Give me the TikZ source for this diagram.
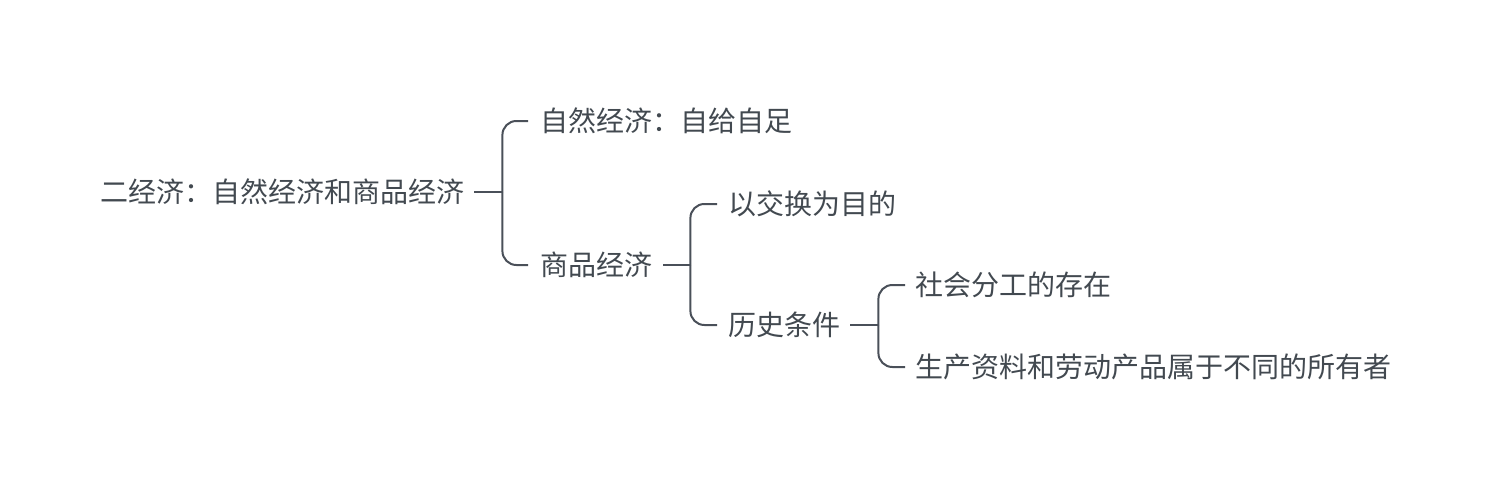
\documentclass[tikz,border=0pt]{standalone}
\usepackage{fontspec}
\setmainfont{Noto Sans CJK SC}
\usepackage{tikz}
\usetikzlibrary{positioning, calc}
\definecolor{map-ink}{HTML}{424950}
\definecolor{map-line}{HTML}{4A5059}

\begin{document}
\begin{tikzpicture}[
    x=1pt, y=-1pt,
    topic/.style={anchor=west, inner sep=0pt, text=map-ink, font=\fontsize{28}{32}\selectfont},
    stub/.style={draw=map-line, line width=2pt},
    branch/.style={draw=map-line, line width=2pt, rounded corners=14pt}
]
\useasboundingbox (0,0) rectangle (1491,487);

% Root
\node[topic] (root) at (100,192) {二经济：自然经济和商品经济};

% First level
\node[topic] (nat) at (540,121) {自然经济：自给自足};
\node[topic] (com) at (540,265) {商品经济};

% Second level
\node[topic] (aim) at (728,204) {以交换为目的};
\node[topic] (hist) at (728,325) {历史条件};

% Third level
\node[topic] (div) at (915,285) {社会分工的存在};
\node[topic] (own) at (915,367) {生产资料和劳动产品属于不同的所有者};

% Brackets
\draw[stub] ([xshift=10pt]root.east) -- ++(28,0) coordinate (j1);
\draw[branch] (j1) |- ([xshift=-12pt]nat.west);
\draw[branch] (j1) |- ([xshift=-12pt]com.west);

\draw[stub] ([xshift=11pt]com.east) -- ++(27,0) coordinate (j2);
\draw[branch] (j2) |- ([xshift=-11pt]aim.west);
\draw[branch] (j2) |- ([xshift=-11pt]hist.west);

\draw[stub] ([xshift=10pt]hist.east) -- ++(28,0) coordinate (j3);
\draw[branch] (j3) |- ([xshift=-10pt]div.west);
\draw[branch] (j3) |- ([xshift=-10pt]own.west);

\end{tikzpicture}
\end{document}
